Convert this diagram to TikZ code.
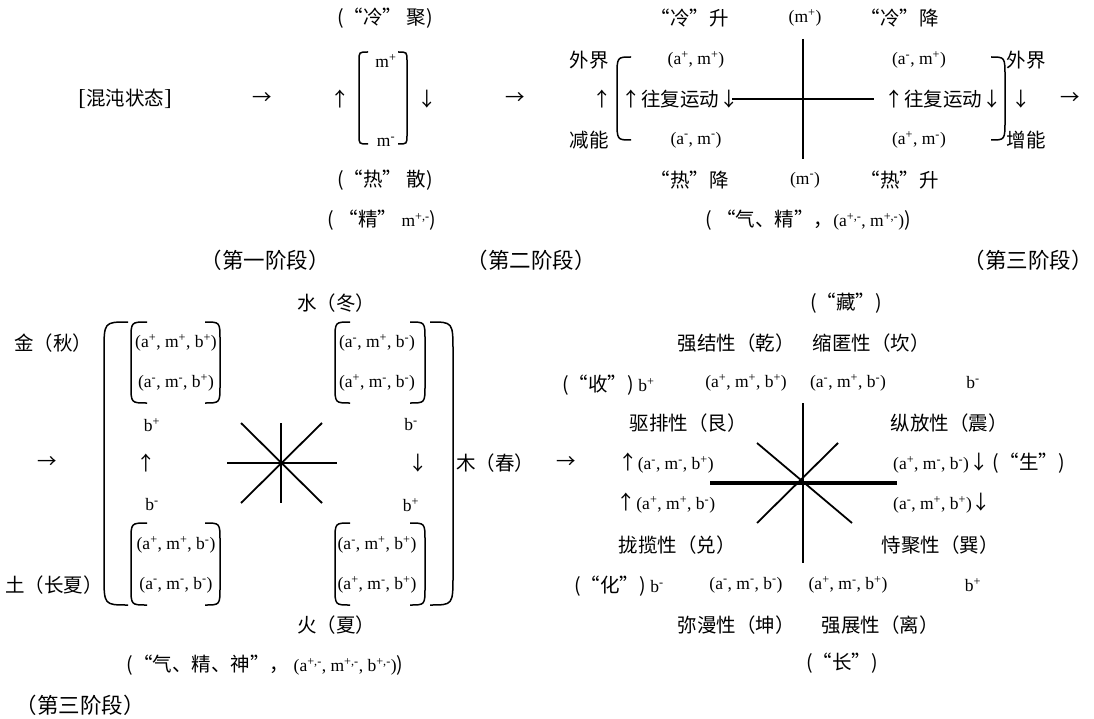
\documentclass[tikz,border=0pt]{standalone}
\usepackage{fontspec}
\setmainfont{Liberation Serif}
\newfontfamily\cjk{Noto Sans CJK SC}
\usetikzlibrary{positioning}
\newcommand\lat[1]{{\rmfamily\fontsize{17.5}{19}\selectfont #1}}
\newcommand\supr[1]{\textsuperscript{#1}}
\newcommand\abmtri[3]{\lat{(a\supr{#1}, m\supr{#2}, b\supr{#3})}}
\newcommand\ampair[2]{\lat{(a\supr{#1}, m\supr{#2})}}
\begin{document}
\begin{tikzpicture}[x=1pt,y=-1pt,
  txt/.style={inner sep=0pt,font=\cjk\fontsize{19.5}{21}\selectfont},
  stage/.style={inner sep=0pt,font=\cjk\fontsize{21.5}{23}\selectfont},
  bar/.style={line width=1.8pt},
  heavy/.style={line width=3.8pt},
  brk/.style={line width=1.5pt}]
  \useasboundingbox (0,0) rectangle (1094,719);

  % stage one
  \node[txt] (chaos) at (125,99) {{\rmfamily\fontsize{23}{23}\selectfont[}混沌状态{\rmfamily\fontsize{23}{23}\selectfont]}};
  \node[txt] (go1) at (262,99) {→};
  \node[txt] (cold) at (385,18) {(“冷” 聚)};
  \node[txt] (mp) at (386,61) {\lat{m\supr{+}}};
  \node[txt] (mm) at (386,142) {\lat{m\supr{-}}};
  \node[txt] (rise) at (340,99) {↑};
  \node[txt] (fall) at (427,99) {↓};
  \node[txt] (hot) at (385,180) {(“热” 散)};
  \node[txt] (jing) at (382,220) {( “精” \lat{m\supr{+,-}})};
  \node[txt] (go2) at (515,99) {→};
  \node[stage] (st1) at (265,260) {（第一阶段）};
  \node[stage] (st2) at (531,260) {（第二阶段）};

  % stage two
  \node[txt,anchor=east] (coldup) at (729,18) {“冷”升};
  \node[txt] (mtop) at (805,18) {\lat{(m\supr{+})}};
  \node[txt,anchor=east] (colddn) at (939,18) {“冷”降};
  \node[txt] (outl) at (589,60) {外界};
  \node[txt] (upl) at (602,99) {↑};
  \node[txt] (lossl) at (589,140) {减能};
  \node[txt] (amlt) at (696,60) {\ampair{+}{+}};
  \node[txt] (recl) at (680,99) {↑往复运动↓};
  \node[txt] (amlb) at (696,140) {\ampair{-}{-}};
  \node[txt] (amrt) at (919,60) {\ampair{-}{+}};
  \node[txt] (recr) at (943,99) {↑往复运动↓};
  \node[txt] (amrb) at (919,140) {\ampair{+}{-}};
  \node[txt] (outr) at (1026,60) {外界};
  \node[txt] (dnr) at (1021,99) {↓};
  \node[txt] (gainr) at (1026,140) {增能};
  \node[txt] (go3) at (1070,99) {→};
  \node[txt,anchor=east] (hotdn) at (729,180) {“热”降};
  \node[txt] (mbot) at (805,180) {\lat{(m\supr{-})}};
  \node[txt,anchor=east] (hotup) at (939,180) {“热”升};
  \node[txt] (qijing) at (808,220) {( “气、精”，\lat{(a\supr{+,-}, m\supr{+,-})})};
  \node[stage] (st3a) at (1028,260) {（第三阶段）};
  \draw[bar] (732,99) -- (874,99);
  \draw[bar] (803,39) -- (803,159);

  % stage three, five phases
  \node[txt] (metal) at (53,343) {金（秋）};
  \node[txt] (water) at (336,303) {水（冬）};
  \node[txt] (wood) at (495,463) {木（春）};
  \node[txt] (fire) at (336,625) {火（夏）};
  \node[txt] (earth) at (54,585) {土（长夏）};
  \node[txt] (go4) at (47,463) {→};
  \node[txt] (tl1) at (176,343) {\abmtri{+}{+}{+}};
  \node[txt] (tl2) at (176,383) {\abmtri{-}{-}{+}};
  \node[txt] (tr1) at (377,343) {\abmtri{-}{+}{-}};
  \node[txt] (tr2) at (377,383) {\abmtri{+}{-}{-}};
  \node[txt] (bl1) at (176,545) {\abmtri{+}{+}{-}};
  \node[txt] (bl2) at (176,585) {\abmtri{-}{-}{-}};
  \node[txt] (br1) at (377,545) {\abmtri{-}{+}{+}};
  \node[txt] (br2) at (377,585) {\abmtri{+}{-}{+}};
  \node[txt] (bpl) at (152,425) {\lat{b\supr{+}}};
  \node[txt] (upb) at (146,463) {↑};
  \node[txt] (bml) at (152,505) {\lat{b\supr{-}}};
  \node[txt] (bmr) at (411,425) {\lat{b\supr{-}}};
  \node[txt] (dnb) at (418,463) {↓};
  \node[txt] (bpr) at (411,505) {\lat{b\supr{+}}};
  \node[txt] (sum) at (265,665) {(“气、精、神”，\lat{ (a\supr{+,-}, m\supr{+,-}, b\supr{+,-})})};
  \node[stage] (st3b) at (80,705) {（第三阶段）};
  \foreach \xe/\xv/\yt/\yb/\r in {128/104/322/605/30, 430/453/322/605/30,
      147/131/322/403/18, 205/220/322/403/18, 350/335/322/403/18, 410/425/322/403/18,
      147/131/523/605/18, 205/220/523/605/18, 350/335/523/605/18, 410/425/523/605/18,
      368/359/52/144/9, 398/407/52/144/9, 631/617/57/140/20, 991/1005/57/140/20}
    \draw[brk] (\xe,\yt) .. controls (\xv,\yt) .. (\xv,\yt+\r) -- (\xv,\yb-\r)
      .. controls (\xv,\yb) .. (\xe,\yb);
  \draw[bar] (227,463) -- (337,463);
  \draw[bar] (281,423) -- (281,503);
  \draw[bar] (241,423) -- (322,503);
  \draw[bar] (322,423) -- (241,503);

  % stage three, eight trigrams
  \node[txt] (cang) at (846,303) {(“藏”)};
  \node[txt] (qian) at (736,343) {强结性（乾）};
  \node[txt] (kan) at (871,343) {缩匿性（坎）};
  \node[txt,anchor=west] (shou) at (562,385) {(“收”) \lat{b\supr{+}}};
  \node[txt] (qt) at (746,383) {\abmtri{+}{+}{+}};
  \node[txt] (kt) at (848,383) {\abmtri{-}{+}{-}};
  \node[txt] (bmt) at (973,383) {\lat{b\supr{-}}};
  \node[txt] (gen) at (688,423) {驱排性（艮）};
  \node[txt] (zhen) at (949,423) {纵放性（震）};
  \node[txt] (go5) at (566,463) {→};
  \node[txt] (gt) at (666,463) {↑\abmtri{-}{-}{+}};
  \node[txt,anchor=west] (zt) at (893,463) {\abmtri{+}{-}{-}↓ (“生”)};
  \node[txt] (dt) at (666,503) {↑\abmtri{+}{+}{-}};
  \node[txt,anchor=west] (xt) at (893,503) {\abmtri{-}{+}{+}↓};
  \node[txt] (dui) at (677,545) {拢揽性（兑）};
  \node[txt] (xun) at (940,545) {恃聚性（巽）};
  \node[txt,anchor=west] (hua) at (574,586) {(“化”) \lat{b\supr{-}}};
  \node[txt] (kunt) at (746,585) {\abmtri{-}{-}{-}};
  \node[txt] (lit) at (848,585) {\abmtri{+}{-}{+}};
  \node[txt] (bpt) at (973,585) {\lat{b\supr{+}}};
  \node[txt] (kun) at (736,625) {弥漫性（坤）};
  \node[txt] (li) at (880,625) {强展性（离）};
  \node[txt] (zhang) at (842,663) {(“长”)};
  \draw[heavy] (710,483) -- (897,483);
  \draw[bar] (803,403) -- (803,563);
  \draw[bar] (757,443) -- (852,523);
  \draw[bar] (838,443) -- (757,523);
\end{tikzpicture}
\end{document}
